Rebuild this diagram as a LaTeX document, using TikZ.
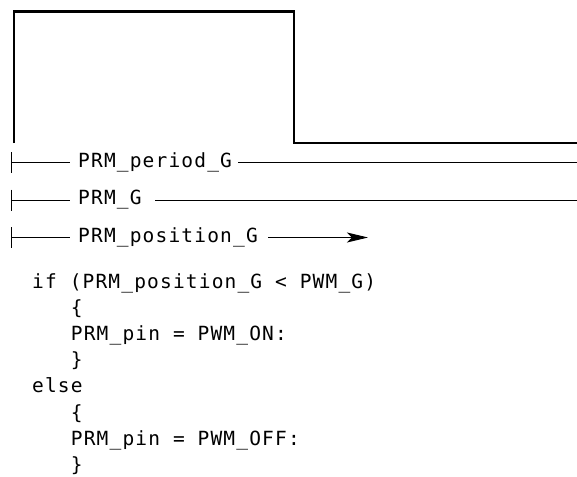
\documentclass[tikz,border=0pt]{standalone}
\usepackage{fontspec}
\newfontfamily\codefont{DejaVu Sans Mono}[LetterSpace=6]
\usetikzlibrary{arrows.meta}
\begin{document}
\begin{tikzpicture}[x=1pt,y=-1pt,
  wave/.style={line width=2.2pt,line join=miter},
  dimline/.style={line width=1pt},
  lbl/.style={inner sep=0pt,anchor=base west,font=\codefont\fontsize{19.5}{22}\selectfont},
  code/.style={inner sep=0pt,anchor=base west,font=\codefont\fontsize{19.5}{22}\selectfont}]
\useasboundingbox (0,0) rectangle (577,476);
% waveform
\coordinate (w0) at (14,143);
\coordinate (w1) at (14,11.5);
\coordinate (w2) at (294,11.5);
\coordinate (w3) at (294,143);
\coordinate (w4) at (578,143);
\draw[wave] (w0) -- (w1) -- (w2) -- (w3) -- (w4);
% dimension lines
\foreach \i/\y/\t in {1/162.5/PRM\_period\_G, 2/200/PRM\_G, 3/237.5/PRM\_position\_G}{
  \coordinate (k\i a) at (11,\y-10.5);
  \coordinate (k\i b) at (11,\y+10.5);
  \draw[dimline] (k\i a) -- (k\i b);
  \coordinate (d\i a) at (11,\y);
  \coordinate (d\i b) at (70,\y);
  \draw[dimline] (d\i a) -- (d\i b);
  \node[lbl] (t\i) at (78,\y+4.5) {\t};
}
\coordinate (e1a) at (238,162.5);
\coordinate (e1b) at (577,162.5);
\draw[dimline] (e1a) -- (e1b);
\coordinate (e2a) at (155,200);
\coordinate (e2b) at (577,200);
\draw[dimline] (e2a) -- (e2b);
\coordinate (e3a) at (268,237.5);
\coordinate (e3b) at (368,237.5);
\draw[dimline,-{Stealth[length=21pt,width=10pt,inset=5pt]}] (e3a) -- (e3b);
% code
\node[code] (c1) at (32,288.5) {if (PRM\_position\_G < PWM\_G)};
\node[code] (c2) at (70.7,314.6) {\{};
\node[code] (c3) at (70.7,340.7) {PRM\_pin = PWM\_ON:};
\node[code] (c4) at (70.7,366.8) {\}};
\node[code] (c5) at (32,392.9) {else};
\node[code] (c6) at (70.7,419) {\{};
\node[code] (c7) at (70.7,445.1) {PRM\_pin = PWM\_OFF:};
\node[code] (c8) at (70.7,471) {\}};
\end{tikzpicture}
\end{document}
